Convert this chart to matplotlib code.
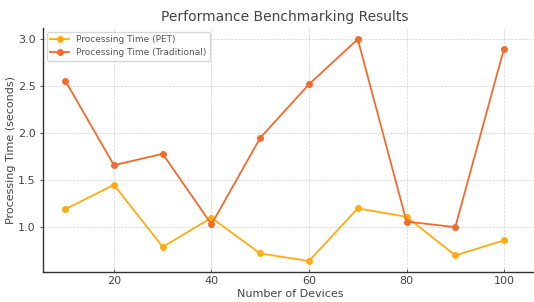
import matplotlib
matplotlib.use('agg')
import matplotlib.pyplot as plt

# Data
devices = [10, 20, 30, 40, 50, 60, 70, 80, 90, 100]
time_pet = [1.19, 1.45, 0.79, 1.10, 0.72, 0.64, 1.20, 1.11, 0.70, 0.86]
time_traditional = [2.56, 1.66, 1.78, 1.03, 1.95, 2.52, 3.00, 1.06, 1.00, 2.90]

plt.rcParams['font.family'] = ['DejaVu Sans']
text_col = '#444444'

fig = plt.figure(figsize=(5.34, 3.02), dpi=100)
# axes run off the right edge of the picture, like the cropped reference
ax = fig.add_axes([0.081, 0.099, 0.925, 0.808])

ax.plot(devices, time_pet, marker='o', markersize=4, linewidth=1.3,
        color='#ffac12', label='Processing Time (PET)')
ax.plot(devices, time_traditional, marker='o', markersize=4, linewidth=1.3,
        color='#f26b2c', label='Processing Time (Traditional)')

ax.set_title('Performance Benchmarking Results', fontsize=10, color=text_col, pad=5,
             x=0.488)
ax.set_xlabel('Number of Devices', fontsize=8, color=text_col, labelpad=2)
ax.set_ylabel('Processing Time (seconds)', fontsize=8, color=text_col, labelpad=1)

ax.set_xlim(5.5, 106.8)
ax.set_xticks([20, 40, 60, 80, 100])
ax.set_yticks([1.0, 1.5, 2.0, 2.5, 3.0])
ax.tick_params(labelsize=8, colors=text_col, length=2.5, width=0.6, pad=3)
ax.tick_params(axis='x', direction='in')
ax.grid(True, linestyle='--', linewidth=0.5, color='#d0d0d0')
for side in ['top', 'right']:
    ax.spines[side].set_visible(False)
for side in ['left', 'bottom']:
    ax.spines[side].set_color('#333333')
    ax.spines[side].set_linewidth(1.0)

leg = ax.legend(loc='upper left', fontsize=6.5, frameon=True, borderaxespad=0.4,
                handlelength=2.0, labelspacing=0.4)
for t in leg.get_texts():
    t.set_color('#555555')

fig.savefig('out.png', dpi=100)
